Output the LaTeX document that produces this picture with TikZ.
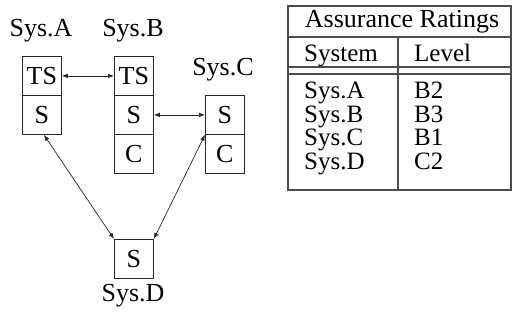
\documentclass[tikz,border=0pt]{standalone}
\usepackage{fontspec}
\setmainfont{Liberation Serif}
\usetikzlibrary{arrows.meta}
\begin{document}
\begin{tikzpicture}[x=1pt,y=-1pt,
  every node/.style={font=\fontsize{26}{28}\selectfont, inner sep=0pt},
  cell/.style={draw=black!85, line width=0.8pt, minimum width=39pt, minimum height=39pt, anchor=north west},
  syslabel/.style={anchor=center},
  link/.style={draw=black!85, line width=0.7pt, {Latex[length=6pt,width=4.5pt]}-{Latex[length=6pt,width=4.5pt]}},
  rule/.style={draw=black!70, line width=1.2pt},
  tabtext/.style={anchor=base west, font=\fontsize{25}{27}\selectfont}]
\useasboundingbox (0,0) rectangle (512,324);

% system labels
\node[syslabel] (la) at (41,31) {Sys.A};
\node[syslabel] (lb) at (133,31) {Sys.B};
\node[syslabel] (lc) at (223,70) {Sys.C};
\node[syslabel] (ld) at (133,296) {Sys.D};

% security level stacks
\node[cell] (aTS) at (22,56) {TS};
\node[cell] (aS)  at (22,95) {S};
\node[cell] (bTS) at (114,56) {TS};
\node[cell] (bS)  at (114,95) {S};
\node[cell] (bC)  at (114,134) {C};
\node[cell] (cS)  at (205,95) {S};
\node[cell] (cC)  at (205,134) {C};
\node[cell] (dS)  at (114,239) {S};

% connections between systems
\draw[link] (aTS.east) -- (bTS.west);
\draw[link] (bS.east) -- (cS.west);
\draw[link] ([xshift=2pt]aS.south) -- (dS.north west);
\draw[link] (cS.south west) -- (dS.north east);

% assurance ratings table
\coordinate (tl) at (288,6);
\coordinate (br) at (511,190);
\draw[rule] (tl) rectangle (br);
\draw[rule] (288,37) -- (511,37);
\draw[rule] (288,67) -- (511,67);
\draw[rule] (288,74) -- (511,74);
\draw[rule] (398,37) -- (398,190);

\node (title) at (402,22) {Assurance Ratings};
\node[tabtext] (hs) at (304,61) {System};
\node[tabtext] (hl) at (414,61) {Level};
\node[tabtext] (r1a) at (304,98.6) {Sys.A};
\node[tabtext] (r1b) at (414,98.6) {B2};
\node[tabtext] (r2a) at (304,122.1) {Sys.B};
\node[tabtext] (r2b) at (414,122.1) {B3};
\node[tabtext] (r3a) at (304,145.6) {Sys.C};
\node[tabtext] (r3b) at (414,145.6) {B1};
\node[tabtext] (r4a) at (304,169.1) {Sys.D};
\node[tabtext] (r4b) at (414,169.1) {C2};
\end{tikzpicture}
\end{document}
